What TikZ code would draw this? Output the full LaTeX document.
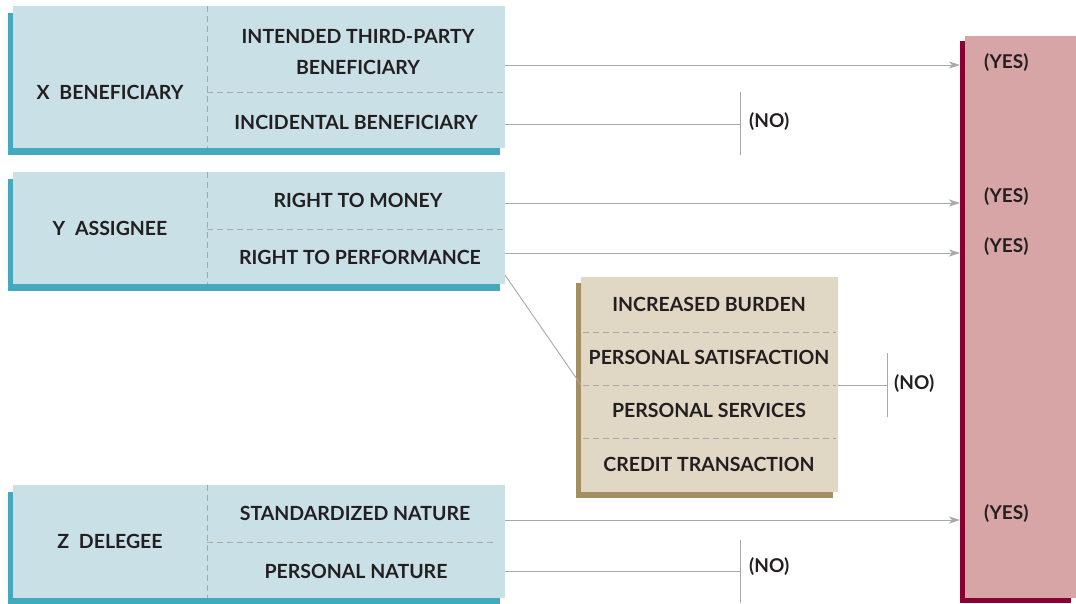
\documentclass[tikz,border=0pt]{standalone}
\usepackage{fontspec}
\setmainfont{Lato}
\usetikzlibrary{arrows.meta,shadows}
\definecolor{lblue}{HTML}{C8E0E6}
\definecolor{tealc}{HTML}{44A9BE}
\definecolor{tanc}{HTML}{E0D7C4}
\definecolor{tandk}{HTML}{A38F5F}
\definecolor{pinkc}{HTML}{D8A5A7}
\definecolor{redk}{HTML}{8A0033}
\definecolor{linec}{HTML}{A8A8A8}
\definecolor{txt}{HTML}{231F20}
\begin{document}
\begin{tikzpicture}[x=1pt,y=-1pt,
  bluebox/.style={fill=lblue,draw=none,anchor=north west,inner sep=0pt,minimum width=492pt,
    copy shadow={shadow xshift=-5pt,shadow yshift=-7pt,fill=tealc,draw=none}},
  tanbox/.style={fill=tanc,draw=none,anchor=north west,inner sep=0pt,minimum width=257pt,minimum height=215pt,
    copy shadow={shadow xshift=-5pt,shadow yshift=-6pt,fill=tandk,draw=none}},
  barbox/.style={fill=pinkc,draw=none,anchor=north west,inner sep=0pt,minimum width=111pt,minimum height=562pt,
    copy shadow={shadow xshift=-5pt,shadow yshift=-5pt,fill=redk,draw=none}},
  lbl/.style={font=\bfseries\fontsize{19.5}{23}\selectfont,text=txt,inner sep=1pt,align=center},
  res/.style={font=\bfseries\fontsize{19}{22}\selectfont,text=txt,inner sep=1pt},
  dashdiv/.style={draw=linec,line width=0.9pt,dash pattern=on 6pt off 4pt},
  conn/.style={draw=linec,line width=0.9pt},
  arr/.style={conn,-{Stealth[length=11pt,width=7pt,inset=3pt]}},
]
\useasboundingbox (0,0) rectangle (1076,603);
% boxes
\node[bluebox,minimum height=142pt] (xb) at (13,6) {};
\node[bluebox,minimum height=112pt] (yb) at (13,172) {};
\node[bluebox,minimum height=113pt] (zb) at (13,485) {};
\node[tanbox] (tb) at (581,277) {};
\node[barbox] (bar) at (965,36) {};
% dashed dividers
\draw[dashdiv] (207,6) -- (207,148);
\draw[dashdiv] (207,92) -- (505,92);
\draw[dashdiv] (207,172) -- (207,284);
\draw[dashdiv] (207,229) -- (505,229);
\draw[dashdiv] (207,485) -- (207,598);
\draw[dashdiv] (207,542) -- (497,542);
\draw[dashdiv] (583,332) -- (836,332);
\draw[dashdiv] (583,385) -- (836,385);
\draw[dashdiv] (583,438) -- (836,438);
% labels
\node[lbl] (xl) at (110,92) {X\enspace BENEFICIARY};
\node[lbl] (x1) at (358,52) {INTENDED THIRD-PARTY\\[8pt]BENEFICIARY};
\node[lbl] (x2) at (356,122) {INCIDENTAL BENEFICIARY};
\node[lbl] (yl) at (110,228) {Y\enspace ASSIGNEE};
\node[lbl] (y1) at (358,200) {RIGHT TO MONEY};
\node[lbl] (y2) at (360,257) {RIGHT TO PERFORMANCE};
\node[lbl] (zl) at (110,541) {Z\enspace DELEGEE};
\node[lbl] (z1) at (355,513) {STANDARDIZED NATURE};
\node[lbl] (z2) at (356,571) {PERSONAL NATURE};
\node[lbl] (t1) at (709,304) {INCREASED BURDEN};
\node[lbl] (t2) at (709,357) {PERSONAL SATISFACTION};
\node[lbl] (t3) at (709,410) {PERSONAL SERVICES};
\node[lbl] (t4) at (709,464) {CREDIT TRANSACTION};
% results
\node[res,anchor=west] (r1) at (983,63) {(YES)};
\node[res,anchor=west] (r2) at (983,197) {(YES)};
\node[res,anchor=west] (r3) at (983,247) {(YES)};
\node[res,anchor=west] (r4) at (983,514) {(YES)};
\node[res,anchor=west] (n1) at (748,122) {(NO)};
\node[res,anchor=west] (n2) at (893,384) {(NO)};
\node[res,anchor=west] (n3) at (748,567) {(NO)};
% coordinates
\coordinate (s1) at (505,65);
\coordinate (s2) at (505,124);
\coordinate (s3) at (505,203);
\coordinate (s4) at (505,253);
\coordinate (s5) at (505,275);
\coordinate (s6) at (505,520);
\coordinate (s7) at (505,571);
\coordinate (b1) at (740,124);
\coordinate (b2) at (887,385);
\coordinate (b3) at (740,571);
\coordinate (tj) at (581,385);
% connectors
\draw[arr] (s1) -- ([xshift=-5pt]s1 -| bar.west);
\draw[arr] (s3) -- ([xshift=-5pt]s3 -| bar.west);
\draw[arr] (s4) -- ([xshift=-5pt]s4 -| bar.west);
\draw[arr] (s6) -- ([xshift=-5pt]s6 -| bar.west);
\draw[conn] (s2) -- (b1);
\draw[conn] (740,92) -- (740,155);
\draw[conn] (s7) -- (b3);
\draw[conn] (740,540) -- (740,603);
\draw[conn] (s5) -- (tj);
\draw[conn] (tb.east |- b2) -- (b2);
\draw[conn] (887,353) -- (887,417);
\end{tikzpicture}
\end{document}
